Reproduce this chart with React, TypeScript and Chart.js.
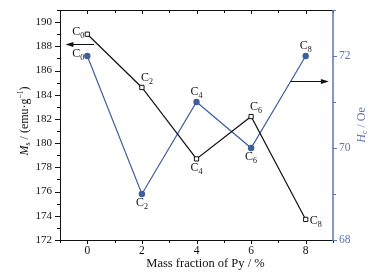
import React, { useEffect, useRef } from "react";
import { Chart, registerables } from "chart.js";

Chart.register(...registerables);

const massFraction = [0, 2, 4, 6, 8];
const msValues = [189.0, 184.6, 178.7, 182.2, 173.7];
const hcValues = [72.0, 69.0, 71.0, 70.0, 72.0];
const sampleSubs = ["0", "2", "4", "6", "8"];
const msLabelPlace = ["left", "aboveRight", "below", "aboveRight", "right"];
const hcLabelPlace = ["left", "below", "above", "below", "above"];
const xTicks = [0, 2, 4, 6, 8];
const msTicks = [172, 174, 176, 178, 180, 182, 184, 186, 188, 190];
const hcTicks = [68, 70, 72];

const SERIF = "'Liberation Serif', 'DejaVu Serif', serif";
const BLACK = "#111111";
const BLUE = "#3d5e9f";
const AXIS_BLUE = "#5a74b6";

function drawC(ctx: CanvasRenderingContext2D, sub: string, x: number, y: number, align: string) {
  ctx.save();
  ctx.font = `12px ${SERIF}`;
  const wC = ctx.measureText("C").width;
  ctx.font = `8px ${SERIF}`;
  const wS = ctx.measureText(sub).width;
  const total = wC + wS;
  let left = x;
  if (align === "center") left = x - total / 2;
  else if (align === "right") left = x - total;
  ctx.fillStyle = BLACK;
  ctx.textBaseline = "middle";
  ctx.textAlign = "left";
  ctx.font = `12px ${SERIF}`;
  ctx.fillText("C", left, y);
  ctx.font = `8px ${SERIF}`;
  ctx.fillText(sub, left + wC, y + 4);
  ctx.restore();
}

function placeLabel(ctx: CanvasRenderingContext2D, sub: string, px: number, py: number, place: string) {
  if (place === "left") drawC(ctx, sub, px - 3, py - 2, "right");
  else if (place === "right") drawC(ctx, sub, px + 4, py + 1, "left");
  else if (place === "above") drawC(ctx, sub, px, py - 10, "center");
  else if (place === "aboveRight") drawC(ctx, sub, px - 1, py - 10, "left");
  else drawC(ctx, sub, px, py + 9, "center");
}

function arrow(ctx: CanvasRenderingContext2D, x1: number, x2: number, y: number) {
  ctx.save();
  ctx.strokeStyle = BLACK;
  ctx.fillStyle = BLACK;
  ctx.lineWidth = 1;
  const dir = x2 > x1 ? 1 : -1;
  ctx.beginPath();
  ctx.moveTo(x1, y);
  ctx.lineTo(x2 - dir * 6, y);
  ctx.stroke();
  ctx.beginPath();
  ctx.moveTo(x2, y);
  ctx.lineTo(x2 - dir * 8, y - 2.5);
  ctx.lineTo(x2 - dir * 8, y + 2.5);
  ctx.closePath();
  ctx.fill();
  ctx.restore();
}

const framePlugin = {
  id: "frame",
  afterDatasetsDraw(chart: any) {
    const ctx: CanvasRenderingContext2D = chart.ctx;
    const { left, right, top, bottom } = chart.chartArea;
    const xs = chart.scales.x;
    const yl = chart.scales.y;
    const yr = chart.scales.y1;
    ctx.save();
    ctx.lineWidth = 1;
    ctx.strokeStyle = BLACK;
    ctx.beginPath();
    ctx.moveTo(left, top + 0.5);
    ctx.lineTo(right, top + 0.5);
    ctx.moveTo(left, bottom + 0.5);
    ctx.lineTo(right, bottom + 0.5);
    ctx.moveTo(left + 0.5, top);
    ctx.lineTo(left + 0.5, bottom + 1);
    ctx.stroke();
    for (let v = -1; v <= 9; v++) {
      const px = Math.round(xs.getPixelForValue(v)) + 0.5;
      const major = v % 2 === 0;
      const len = major ? 4 : 3;
      ctx.beginPath();
      ctx.moveTo(px, bottom);
      ctx.lineTo(px, bottom + len);
      ctx.moveTo(px, top);
      ctx.lineTo(px, top + len);
      ctx.stroke();
    }
    for (let v = 172; v <= 191; v++) {
      const py = Math.round(yl.getPixelForValue(v)) + 0.5;
      const major = v % 2 === 0;
      const len = major ? 5 : 3;
      ctx.beginPath();
      ctx.moveTo(left, py);
      ctx.lineTo(left - len, py);
      ctx.stroke();
    }
    ctx.strokeStyle = AXIS_BLUE;
    ctx.lineWidth = 1.5;
    ctx.beginPath();
    ctx.moveTo(right, top);
    ctx.lineTo(right, bottom + 1);
    ctx.stroke();
    ctx.lineWidth = 1;
    for (let v = 68; v <= 73; v++) {
      const py = Math.round(yr.getPixelForValue(v)) + 0.5;
      const major = v % 2 === 0;
      const len = major ? 4 : 3;
      ctx.beginPath();
      ctx.moveTo(right, py);
      ctx.lineTo(right + len, py);
      ctx.stroke();
    }
    ctx.restore();

    massFraction.forEach((m, i) => {
      const px = xs.getPixelForValue(m);
      placeLabel(ctx, sampleSubs[i], px, yl.getPixelForValue(msValues[i]), msLabelPlace[i]);
      placeLabel(ctx, sampleSubs[i], px, yr.getPixelForValue(hcValues[i]), hcLabelPlace[i]);
    });

    const yA = Math.round(yl.getPixelForValue(188.2)) + 0.5;
    arrow(ctx, xs.getPixelForValue(0.25), xs.getPixelForValue(-0.8), yA);
    const yB = Math.round(yr.getPixelForValue(71.45)) + 0.5;
    arrow(ctx, xs.getPixelForValue(7.45), xs.getPixelForValue(8.85), yB);

    ctx.save();
    ctx.fillStyle = BLACK;
    ctx.font = `12.5px ${SERIF}`;
    ctx.textAlign = "center";
    ctx.textBaseline = "middle";
    ctx.fillText("Mass fraction of Py / %", (left + right) / 2 + 9, 264);
    ctx.restore();

    ctx.save();
    ctx.translate(25, (top + bottom) / 2 - 4);
    ctx.rotate(-Math.PI / 2);
    ctx.fillStyle = BLACK;
    ctx.textBaseline = "middle";
    const parts: [string, string, number][] = [
      ["M", `italic 12px ${SERIF}`, 0],
      ["s", `8px ${SERIF}`, 3],
      [" / (emu·g", `12px ${SERIF}`, 0],
      ["−1", `7.5px ${SERIF}`, -4],
      [")", `12px ${SERIF}`, 0],
    ];
    let tw = 0;
    parts.forEach((p) => {
      ctx.font = p[1];
      tw += ctx.measureText(p[0]).width;
    });
    let cx = -tw / 2;
    parts.forEach((p) => {
      ctx.font = p[1];
      ctx.fillText(p[0], cx, p[2]);
      cx += ctx.measureText(p[0]).width;
    });
    ctx.restore();

    ctx.save();
    ctx.translate(362, (top + bottom) / 2);
    ctx.rotate(-Math.PI / 2);
    ctx.fillStyle = AXIS_BLUE;
    ctx.textBaseline = "middle";
    const rparts: [string, string, number][] = [
      ["H", `italic 12px ${SERIF}`, 0],
      ["c", `8px ${SERIF}`, 3],
      [" / Oe", `12px ${SERIF}`, 0],
    ];
    let rw = 0;
    rparts.forEach((p) => {
      ctx.font = p[1];
      rw += ctx.measureText(p[0]).width;
    });
    let rx = -rw / 2;
    rparts.forEach((p) => {
      ctx.font = p[1];
      ctx.fillText(p[0], rx, p[2]);
      rx += ctx.measureText(p[0]).width;
    });
    ctx.restore();
  },
};

export default function App() {
  const ref = useRef<HTMLCanvasElement | null>(null);
  useEffect(() => {
    document.body.style.margin = "0";
    const canvas = ref.current;
    if (!canvas) return;
    const chart = new Chart(canvas, {
      type: "line",
      data: {
        datasets: [
          {
            label: "Ms",
            data: massFraction.map((m, i) => ({ x: m, y: msValues[i] })),
            yAxisID: "y",
            borderColor: BLACK,
            borderWidth: 1.2,
            pointStyle: "rect",
            pointRadius: 3,
            pointBackgroundColor: "#ffffff",
            pointBorderColor: BLACK,
            pointBorderWidth: 1,
            tension: 0,
          },
          {
            label: "Hc",
            data: massFraction.map((m, i) => ({ x: m, y: hcValues[i] })),
            yAxisID: "y1",
            borderColor: BLUE,
            borderWidth: 1.2,
            pointStyle: "circle",
            pointRadius: 3.2,
            pointBackgroundColor: BLUE,
            pointBorderColor: BLUE,
            pointBorderWidth: 0,
            tension: 0,
          },
        ],
      },
      options: {
        responsive: false,
        animation: false,
        layout: { padding: { top: 10, left: 0, right: 0, bottom: 0 } },
        plugins: { legend: { display: false }, tooltip: { enabled: false } },
        scales: {
          x: {
            type: "linear",
            min: -1,
            max: 9,
            border: { display: false },
            grid: { display: false, drawTicks: true, tickLength: 4 },
            afterFit: (s: any) => {
              s.height = 36;
            },
            afterBuildTicks: (s: any) => {
              s.ticks = xTicks.map((v) => ({ value: v }));
            },
            ticks: {
              color: BLACK,
              padding: 0,
              maxRotation: 0,
              font: { family: SERIF, size: 11.5 },
            },
          },
          y: {
            type: "linear",
            position: "left",
            min: 172,
            max: 191,
            border: { display: false },
            grid: { display: false, drawTicks: true, tickLength: 5 },
            afterFit: (s: any) => {
              s.width = 60;
            },
            afterBuildTicks: (s: any) => {
              s.ticks = msTicks.map((v) => ({ value: v }));
            },
            ticks: {
              color: BLACK,
              padding: 3,
              font: { family: SERIF, size: 11 },
            },
          },
          y1: {
            type: "linear",
            position: "right",
            min: 68,
            max: 73,
            border: { display: false },
            grid: { display: false, drawTicks: true, tickLength: 4 },
            afterFit: (s: any) => {
              s.width = 57;
            },
            afterBuildTicks: (s: any) => {
              s.ticks = hcTicks.map((v) => ({ value: v }));
            },
            ticks: {
              color: AXIS_BLUE,
              padding: 2,
              font: { family: SERIF, size: 11.5 },
            },
          },
        },
      },
      plugins: [framePlugin],
    } as any);
    return () => chart.destroy();
  }, []);
  return (
    <div style={{ width: 390, height: 276, background: "#ffffff" }}>
      <canvas ref={ref} width={390} height={276} style={{ display: "block" }} />
    </div>
  );
}
